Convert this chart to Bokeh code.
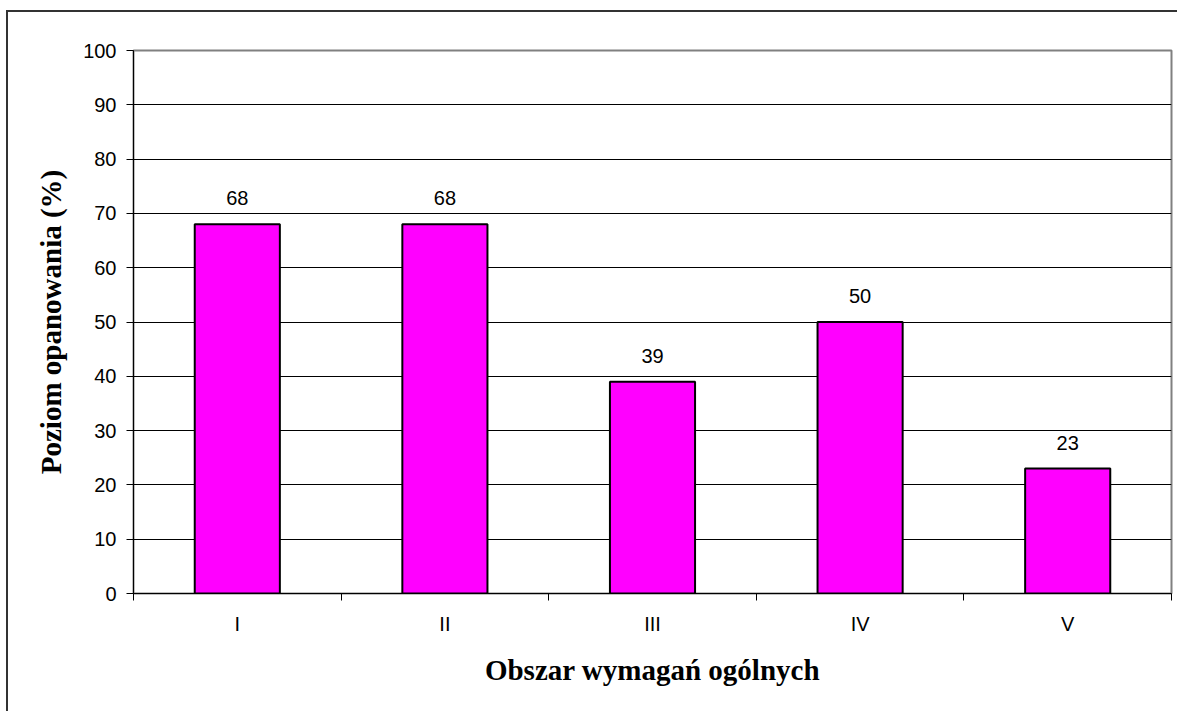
from bokeh.plotting import figure
from bokeh.models import Range1d, FixedTicker, ColumnDataSource, LabelSet
from bokeh.core.properties import value
from bokeh.embed import file_html
from bokeh.resources import INLINE

# ---- data ----
categories = ["I", "II", "III", "IV", "V"]
values = [68, 68, 39, 50, 23]
y_ticks = [0, 10, 20, 30, 40, 50, 60, 70, 80, 90, 100]
x_title = "Obszar wymagań ogólnych"
y_title = "Poziom opanowania (%)"

xs = [i + 0.5 for i in range(len(categories))]
src = ColumnDataSource(dict(x=xs, top=values, label=[str(v) for v in values]))

p = figure(width=1177, height=711, output_backend="svg", toolbar_location=None,
           x_range=Range1d(0, len(categories)), y_range=Range1d(0, 100),
           min_border_left=133, min_border_right=6, min_border_top=50, min_border_bottom=118)
p.background_fill_color = "white"
p.border_fill_color = None
p.outline_line_color = "#808080"
p.outline_line_width = 2
# outer chart-area border (left and top edges visible, rest cropped)
p.styles = {
    "background": ("linear-gradient(#333333,#333333) 6px 10px / 2px 900px no-repeat, "
                   "linear-gradient(#333333,#333333) 6px 10px / 1400px 2px no-repeat, white"),
}

p.vbar(x="x", top="top", width=0.41, source=src, fill_color="#FF00FF",
       line_color="black", line_width=2)

labels = LabelSet(x="x", y="top", text="label", source=src, text_align="center",
                  text_baseline="alphabetic", y_offset=19,
                  text_font=value("Liberation Sans"),
                  text_font_size="20px", text_color="black")
p.add_layout(labels)

# grid
p.xgrid.visible = False
p.ygrid.ticker = FixedTicker(ticks=y_ticks)
p.ygrid.grid_line_color = "black"
p.ygrid.grid_line_width = 1

# y axis
p.yaxis.ticker = FixedTicker(ticks=y_ticks)
p.yaxis.major_tick_out = 7
p.yaxis.major_tick_in = 0
p.yaxis.minor_tick_line_color = None
p.yaxis.axis_line_color = "black"
p.yaxis.major_tick_line_color = "black"
p.yaxis.major_label_text_font = "Liberation Sans"
p.yaxis.major_label_text_font_size = "20px"
p.yaxis.major_label_text_color = "black"
p.yaxis.major_label_standoff = 10
p.yaxis.axis_label = y_title
p.yaxis.axis_label_text_font = "Liberation Serif"
p.yaxis.axis_label_text_font_style = "bold"
p.yaxis.axis_label_text_font_size = "29px"
p.yaxis.axis_label_text_color = "black"
p.yaxis.axis_label_standoff = 13

# x axis: labels at centres, ticks at boundaries (minor ticks)
p.xaxis.ticker = FixedTicker(ticks=xs, minor_ticks=list(range(len(categories) + 1)))
p.xaxis.major_label_overrides = {x: c for x, c in zip(xs, categories)}
p.xaxis.major_tick_out = 0
p.xaxis.major_tick_in = 0
p.xaxis.minor_tick_out = 7
p.xaxis.minor_tick_in = 0
p.xaxis.minor_tick_line_color = "black"
p.xaxis.axis_line_color = "black"
p.xaxis.major_label_text_font = "Liberation Sans"
p.xaxis.major_label_text_font_size = "20px"
p.xaxis.major_label_text_color = "black"
p.xaxis.major_label_standoff = 12
p.xaxis.axis_label = x_title
p.xaxis.axis_label_text_font = "Liberation Serif"
p.xaxis.axis_label_text_font_style = "bold"
p.xaxis.axis_label_text_font_size = "29px"
p.xaxis.axis_label_text_color = "black"
p.xaxis.axis_label_standoff = 16

open("out.html", "w").write(file_html(p, INLINE))
